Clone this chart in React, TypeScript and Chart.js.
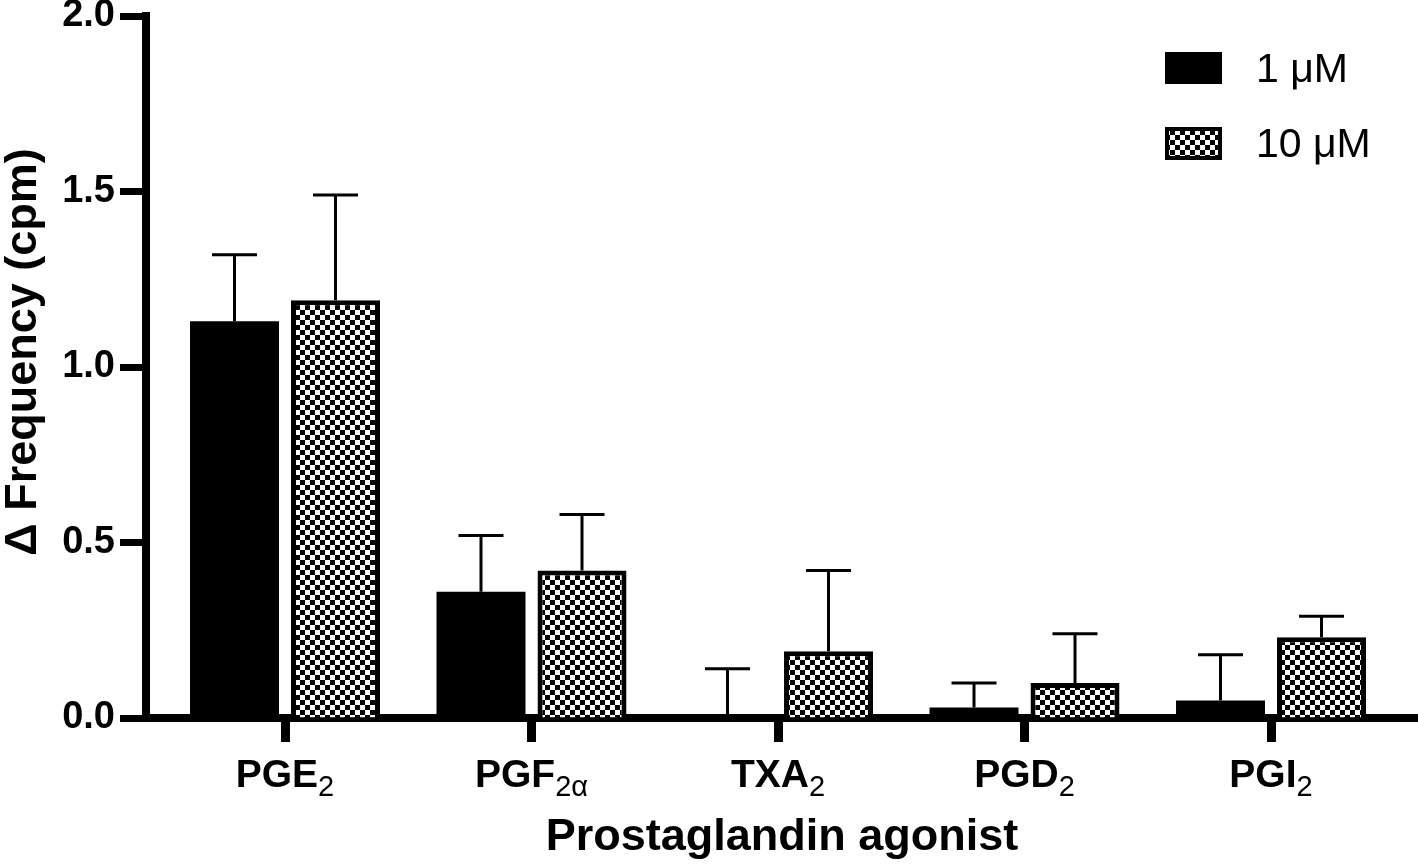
import React, { useEffect, useRef } from 'react';
import { Chart, registerables } from 'chart.js';

Chart.register(...registerables);

// ---- Data ----
const categoryBase = ['PGE', 'PGF', 'TXA', 'PGD', 'PGI'];
const categorySub = ['2', '2α', '2', '2', '2'];
const seriesNames = ['1 μM', '10 μM'];
const values1uM = [1.13, 0.36, 0.0, 0.03, 0.05];
const errors1uM = [0.19, 0.16, 0.14, 0.07, 0.13];
const values10uM = [1.19, 0.42, 0.19, 0.1, 0.23];
const errors10uM = [0.3, 0.16, 0.23, 0.14, 0.06];
const yTicks = [0, 0.5, 1.0, 1.5, 2.0];
const xTitle = 'Prostaglandin agonist';
const yTitle = 'Δ Frequency (cpm)';

// ---- Layout / style constants ----
const W = 1418;
const H = 867;
const X_MIN = -0.5639;
const X_MAX = 4.5963;
const FAMILY = '"Liberation Sans", Arial, Helvetica, sans-serif';

function makeChecker(ctx: CanvasRenderingContext2D) {
  const c = document.createElement('canvas');
  c.width = 10;
  c.height = 10;
  const g = c.getContext('2d')!;
  g.fillStyle = '#fff';
  g.fillRect(0, 0, 10, 10);
  g.fillStyle = '#000';
  g.fillRect(0, 0, 5, 5);
  g.fillRect(5, 5, 5, 5);
  return ctx.createPattern(c, 'repeat')!;
}

export default function App() {
  const ref = useRef<HTMLCanvasElement | null>(null);

  useEffect(() => {
    const canvas = ref.current!;
    const ctx = canvas.getContext('2d')!;
    const checker = makeChecker(ctx);
    const values = [values1uM, values10uM];
    const errors = [errors1uM, errors10uM];

    const overlay = {
      id: 'overlay',
      afterDatasetsDraw(chart: any) {
        const c = chart.ctx;
        const ys = chart.scales.y;
        c.save();
        c.strokeStyle = '#000';
        c.lineWidth = 3;
        c.lineCap = 'butt';
        values.forEach((vals, di) => {
          const meta = chart.getDatasetMeta(di);
          meta.data.forEach((bar: any, i: number) => {
            const top = ys.getPixelForValue(vals[i]);
            const end = ys.getPixelForValue(vals[i] + errors[di][i]);
            const x = bar.x;
            c.beginPath();
            c.moveTo(x, top);
            c.lineTo(x, end);
            c.moveTo(x - 22.5, end);
            c.lineTo(x + 22.5, end);
            c.stroke();
          });
        });
        c.restore();
      },
      afterDraw(chart: any) {
        const c = chart.ctx;
        const xs = chart.scales.x;
        c.save();
        c.fillStyle = '#000';
        c.textBaseline = 'alphabetic';
        categoryBase.forEach((base, i) => {
          const x = xs.getPixelForValue(i);
          c.font = `bold 39px ${FAMILY}`;
          const wb = c.measureText(base).width;
          c.font = `29px ${FAMILY}`;
          const ws = c.measureText(categorySub[i]).width;
          const start = x - (wb + ws) / 2;
          c.font = `bold 39px ${FAMILY}`;
          c.textAlign = 'left';
          c.fillText(base, start, 787);
          c.font = `29px ${FAMILY}`;
          c.fillText(categorySub[i], start + wb, 796);
        });
        // y title
        c.save();
        c.translate(24, 352);
        c.rotate(-Math.PI / 2);
        c.font = `bold 45px ${FAMILY}`;
        c.textAlign = 'center';
        c.textBaseline = 'middle';
        c.fillText(yTitle, 0, 0);
        c.restore();
        // legend
        c.fillStyle = '#000';
        c.fillRect(1165, 52, 57, 32);
        c.fillStyle = checker;
        c.fillRect(1165, 127, 57, 33);
        c.strokeStyle = '#000';
        c.lineWidth = 4;
        c.strokeRect(1167, 129, 53, 29);
        c.fillStyle = '#000';
        c.font = `41px ${FAMILY}`;
        c.textAlign = 'left';
        c.textBaseline = 'middle';
        c.fillText(seriesNames[0], 1256, 71);
        c.fillText(seriesNames[1], 1256, 146);
        c.restore();
      },
    };

    const chart = new Chart(canvas, {
      type: 'bar',
      data: {
        datasets: [
          {
            label: seriesNames[0],
            data: values1uM.map((v, i) => ({ x: i, y: v })),
            backgroundColor: '#000',
            borderWidth: 0,
          },
          {
            label: seriesNames[1],
            data: values10uM.map((v, i) => ({ x: i, y: v })),
            backgroundColor: checker,
            borderColor: '#000',
            borderWidth: 5,
          },
        ],
      },
      options: {
        responsive: false,
        animation: false,
        layout: { padding: { top: 16, right: 0, left: 0, bottom: 0 } },
        plugins: { legend: { display: false }, tooltip: { enabled: false } },
        datasets: { bar: { categoryPercentage: 0.8195, barPercentage: 0.881 } } as any,
        scales: {
          x: {
            type: 'linear',
            offset: false,
            min: X_MIN,
            max: X_MAX,
            afterBuildTicks: (s: any) => {
              s.ticks = categoryBase.map((_, i) => ({ value: i }));
            },
            afterFit: (s: any) => {
              s.height = 149;
              s.paddingLeft = 0;
              s.paddingRight = 0;
            },
            ticks: { display: false },
            grid: {
              display: true,
              offset: false,
              drawOnChartArea: false,
              drawTicks: true,
              tickLength: 24,
              tickWidth: 9,
              tickColor: '#000',
            },
            border: { display: true, width: 8, color: '#000' },
            title: {
              display: true,
              text: xTitle,
              color: '#000',
              font: { family: FAMILY, size: 45, weight: 'bold', lineHeight: 1 },
              padding: { top: 0, bottom: 7 },
            },
          } as any,
          y: {
            min: 0,
            max: 2,
            afterBuildTicks: (s: any) => {
              s.ticks = yTicks.map((v) => ({ value: v }));
            },
            afterFit: (s: any) => {
              s.width = 146;
              s.paddingTop = 0;
              s.paddingBottom = 0;
            },
            ticks: {
              color: '#000',
              padding: 5,
              font: { family: FAMILY, size: 38, weight: 'bold' },
              callback: (v: any) => Number(v).toFixed(1),
            },
            grid: {
              display: true,
              drawOnChartArea: false,
              drawTicks: true,
              tickLength: 26,
              tickWidth: 7,
              tickColor: '#000',
            },
            border: { display: true, width: 8, color: '#000' },
          } as any,
        },
      },
      plugins: [overlay],
    });

    return () => chart.destroy();
  }, []);

  return (
    <div style={{ position: 'fixed', left: 0, top: 0, width: W, height: H, background: '#fff' }}>
      <canvas ref={ref} width={W} height={H} style={{ display: 'block', width: W, height: H }} />
    </div>
  );
}
